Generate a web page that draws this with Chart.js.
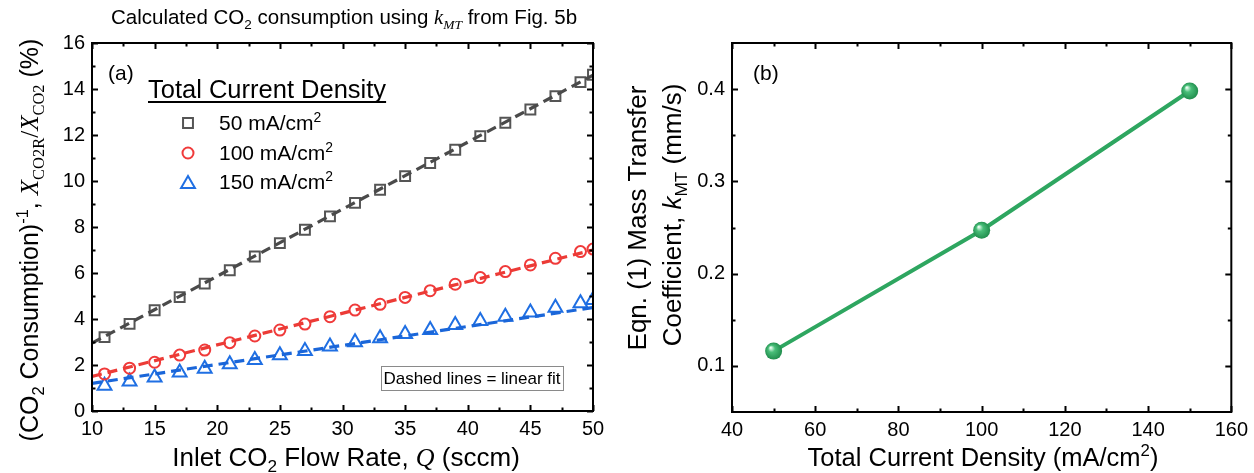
<!DOCTYPE html>
<html>
<head>
<meta charset="utf-8">
<script src="https://cdn.jsdelivr.net/npm/chart.js@4.4.1/dist/chart.umd.min.js"></script>
<style>
  html, body { margin: 0; padding: 0; background: #fff; }
  #wrap { position: relative; width: 1254px; height: 473px; overflow: hidden; background: #fff; }
  #wrap canvas { position: absolute; left: 0; top: 0; }
</style>
</head>
<body>
<div id="wrap">
  <canvas id="panelA" width="1254" height="473"></canvas>
  <canvas id="panelB" width="1254" height="473"></canvas>
</div>
<script>
// ---------- Panel (a): inverse CO2 consumption vs inlet flow rate ----------
const flowRate = [11, 13, 15, 17, 19, 21, 23, 25, 27, 29, 31, 33, 35, 37, 39, 41, 43, 45, 47, 49, 50];
const ratio50  = [3.21, 3.79, 4.38, 4.95, 5.54, 6.12, 6.72, 7.30, 7.88, 8.46, 9.05, 9.62, 10.21, 10.78, 11.36, 11.95, 12.53, 13.11, 13.69, 14.30, 14.62];
const ratio100 = [1.61, 1.86, 2.12, 2.43, 2.65, 2.97, 3.26, 3.52, 3.78, 4.10, 4.39, 4.64, 4.94, 5.23, 5.51, 5.80, 6.06, 6.35, 6.64, 6.93, 7.04];
const ratio150 = [1.10, 1.28, 1.46, 1.67, 1.84, 2.03, 2.22, 2.42, 2.61, 2.80, 2.99, 3.16, 3.35, 3.52, 3.74, 3.91, 4.10, 4.28, 4.49, 4.68, 4.83];
// linear-fit end points at 10 and 50 sccm
const fitFlow = [10, 50];
const fit50  = [2.95, 14.60];
const fit100 = [1.50, 7.00];
const fit150 = [1.20, 4.50];
const seriesNames = ['50', '100', '150'];
const flowTicks  = [10, 15, 20, 25, 30, 35, 40, 45, 50];
const ratioTicks = [0, 2, 4, 6, 8, 10, 12, 14, 16];

// ---------- Panel (b): mass transfer coefficient vs current density ----------
const currentDensity = [50, 100, 150];
const kMT = [0.116, 0.247, 0.398];
const densityTicks = [40, 60, 80, 100, 120, 140, 160];
const kTicks = [0.1, 0.2, 0.3, 0.4];

const SANS = '"Liberation Sans", Arial, sans-serif';
const SERIF = '"Liberation Serif", "Times New Roman", serif';

const C_GRAY = '#555555', C_GRAY_LINE = '#4a4a4a';
const C_RED = '#f03a3a', C_RED_LINE = '#ec3b36';
const C_BLUE = '#1f6fe3', C_BLUE_LINE = '#1a66d9';
const C_GREEN = '#2ea660';

// ---- rich text: runs of {t, serif, italic, sub, sup}
function runFont(r, size) {
  const s = (r.sub || r.sup) ? size * 0.66 : size;
  return (r.italic ? 'italic ' : '') + s.toFixed(1) + 'px ' + (r.serif ? SERIF : SANS);
}
function richWidth(ctx, runs, size) {
  let w = 0;
  runs.forEach(r => { ctx.font = runFont(r, size); w += ctx.measureText(r.t).width; });
  return w;
}
// draws runs with the baseline through (x, y); align: 'left' | 'center'; rot in radians
function drawRich(ctx, runs, x, y, size, align, rot, color) {
  ctx.save();
  ctx.translate(x, y);
  if (rot) ctx.rotate(rot);
  ctx.fillStyle = color || '#000';
  ctx.textBaseline = 'alphabetic';
  ctx.textAlign = 'left';
  const w = richWidth(ctx, runs, size);
  let cx = align === 'center' ? -w / 2 : 0;
  runs.forEach(r => {
    ctx.font = runFont(r, size);
    const dy = r.sub ? size * 0.22 : (r.sup ? -size * 0.40 : 0);
    ctx.fillText(r.t, cx, dy);
    cx += ctx.measureText(r.t).width;
  });
  ctx.restore();
  return w;
}

// Boxed frame plus inward ticks on all four sides
function frameTicks(xMajor, yMajor) {
  return {
    id: 'frameTicks',
    afterDraw(chart) {
      const { ctx, chartArea: a, scales } = chart;
      const xs = scales.x, ys = scales.y;
      ctx.save();
      ctx.strokeStyle = '#000';
      ctx.lineWidth = 2;
      ctx.lineCap = 'butt';
      const mids = arr => arr.slice(1).map((v, i) => (v + arr[i]) / 2);
      const tickX = (vals, len) => vals.forEach(v => {
        const p = Math.round(xs.getPixelForValue(v)) + 0.5;
        ctx.beginPath();
        ctx.moveTo(p, a.bottom); ctx.lineTo(p, a.bottom - len);
        ctx.moveTo(p, a.top); ctx.lineTo(p, a.top + len);
        ctx.stroke();
      });
      const tickY = (vals, len) => vals.forEach(v => {
        const p = Math.round(ys.getPixelForValue(v)) + 0.5;
        ctx.beginPath();
        ctx.moveTo(a.left, p); ctx.lineTo(a.left + len, p);
        ctx.moveTo(a.right, p); ctx.lineTo(a.right - len, p);
        ctx.stroke();
      });
      tickX(xMajor, 6); tickX(mids(xMajor), 3.5);
      tickY(yMajor, 6); tickY(mids(yMajor), 3.5);
      ctx.strokeRect(a.left, a.top, a.right - a.left, a.bottom - a.top);
      ctx.restore();
    }
  };
}

function fixedTicks(values) {
  return scale => { scale.ticks = values.map(v => ({ value: v })); };
}

// ---------- annotation for panel (a) ----------
const panelAText = {
  id: 'panelAText',
  afterDraw(chart) {
    const ctx = chart.ctx;
    // heading
    drawRich(ctx, [
      { t: 'Calculated CO' }, { t: '2', sub: true }, { t: ' consumption using ' },
      { t: 'k', serif: true, italic: true }, { t: 'MT', serif: true, italic: true, sub: true },
      { t: ' from Fig. 5b' }
    ], 344, 24, 20.5, 'center');
    // panel tag
    drawRich(ctx, [{ t: '(a)' }], 108, 80, 21, 'left');
    // legend
    ctx.save();
    ctx.font = '25.5px ' + SANS;
    ctx.fillStyle = '#000';
    ctx.textBaseline = 'alphabetic';
    const head = 'Total Current Density';
    ctx.fillText(head, 148, 98);
    const hw = ctx.measureText(head).width;
    ctx.fillRect(148, 101, hw, 2);
    ctx.restore();
    const marks = [
      { style: 'rect', r: 7, c: C_GRAY },
      { style: 'circle', r: 5.5, c: C_RED },
      { style: 'triangle', r: 8, c: C_BLUE }
    ];
    const rowsY = [123, 153, 182];
    marks.forEach((m, i) => {
      ctx.save();
      ctx.strokeStyle = m.c; ctx.fillStyle = 'rgba(0,0,0,0)'; ctx.lineWidth = 2;
      Chart.helpers.drawPoint(ctx, { pointStyle: m.style, radius: m.r, borderWidth: 2, rotation: 0 }, 188, rowsY[i] + (m.style === 'triangle' ? 2 : 0));
      ctx.restore();
      drawRich(ctx, [{ t: seriesNames[i] + ' mA/cm' }, { t: '2', sup: true }], 219, rowsY[i] + 7, 21, 'left');
    });
    // fit note box
    ctx.save();
    ctx.fillStyle = '#fff';
    ctx.fillRect(381, 366, 182, 24);
    ctx.strokeStyle = '#8a8a8a'; ctx.lineWidth = 1;
    ctx.strokeRect(381.5, 366.5, 182, 24);
    ctx.restore();
    drawRich(ctx, [{ t: 'Dashed lines = linear fit' }], 472, 384, 17, 'center');
    // axis titles
    drawRich(ctx, [
      { t: 'Inlet CO' }, { t: '2', sub: true }, { t: ' Flow Rate, ' },
      { t: 'Q', serif: true, italic: true }, { t: ' (sccm)' }
    ], 346, 466, 26, 'center');
    drawRich(ctx, [
      { t: '(CO' }, { t: '2', sub: true }, { t: ' Consumption)' }, { t: '-1', sup: true }, { t: ', ' },
      { t: 'X', serif: true, italic: true }, { t: 'CO2R', serif: true, sub: true }, { t: '/', serif: true },
      { t: 'X', serif: true, italic: true }, { t: 'CO2', serif: true, sub: true }, { t: ' (%)' }
    ], 38, 240, 25, 'center', -Math.PI / 2);
  }
};

// ---------- annotation for panel (b) ----------
const panelBText = {
  id: 'panelBText',
  afterDraw(chart) {
    const ctx = chart.ctx;
    drawRich(ctx, [{ t: '(b)' }], 753, 80, 21, 'left');
    drawRich(ctx, [{ t: 'Total Current Density (mA/cm' }, { t: '2', sup: true }, { t: ')' }], 983, 466, 25.5, 'center');
    drawRich(ctx, [{ t: 'Eqn. (1) Mass Transfer' }], 646, 218, 26, 'center', -Math.PI / 2);
    drawRich(ctx, [{ t: 'Coefficient, ' }, { t: 'k', italic: true }, { t: 'MT', sub: true }, { t: ' (mm/s)' }], 681, 215, 26, 'center', -Math.PI / 2);
  }
};

const tickFont = { family: SANS, size: 20 };

function toPoints(xs, ys) { return xs.map((x, i) => ({ x, y: ys[i] })); }

// ---------- chart (a) ----------
new Chart(document.getElementById('panelA'), {
  type: 'scatter',
  data: {
    datasets: [
      { label: 'fit 50', type: 'line', data: toPoints(fitFlow, fit50), borderColor: C_GRAY_LINE, borderWidth: 3.2, borderDash: [10, 6], pointRadius: 0, order: 0, clip: 0 },
      { label: 'fit 100', type: 'line', data: toPoints(fitFlow, fit100), borderColor: C_RED_LINE, borderWidth: 3.2, borderDash: [10, 6], pointRadius: 0, order: 0, clip: 0 },
      { label: 'fit 150', type: 'line', data: toPoints(fitFlow, fit150), borderColor: C_BLUE_LINE, borderWidth: 3.2, borderDash: [10, 6], pointRadius: 0, order: 0, clip: 0 },
      { label: '50 mA/cm²', data: toPoints(flowRate, ratio50), pointStyle: 'rect', pointRadius: 7, borderColor: C_GRAY, pointBorderWidth: 2, backgroundColor: 'rgba(0,0,0,0)', order: 1, clip: 0 },
      { label: '100 mA/cm²', data: toPoints(flowRate, ratio100), pointStyle: 'circle', pointRadius: 5.5, borderColor: C_RED, pointBorderWidth: 2, backgroundColor: 'rgba(0,0,0,0)', order: 1, clip: 0 },
      { label: '150 mA/cm²', data: toPoints(flowRate, ratio150), pointStyle: 'triangle', pointRadius: 8, borderColor: C_BLUE, pointBorderWidth: 2, backgroundColor: 'rgba(0,0,0,0)', order: 1, clip: 0 }
    ]
  },
  options: {
    responsive: false,
    animation: false,
    devicePixelRatio: 1,
    layout: { padding: { left: 0, right: 661, top: 43, bottom: 0 } },
    plugins: { legend: { display: false }, tooltip: { enabled: false }, title: { display: false } },
    scales: {
      x: {
        type: 'linear', min: 10, max: 50,
        afterBuildTicks: fixedTicks(flowTicks),
        afterFit: s => { s.height = 62; },
        grid: { display: false, drawTicks: false },
        border: { display: false },
        ticks: { font: tickFont, color: '#000', padding: 6, maxRotation: 0 }
      },
      y: {
        type: 'linear', min: 0, max: 16,
        afterBuildTicks: fixedTicks(ratioTicks),
        afterFit: s => { s.width = 92; },
        grid: { display: false, drawTicks: false },
        border: { display: false },
        ticks: { font: tickFont, color: '#000', padding: 7 }
      }
    }
  },
  plugins: [frameTicks(flowTicks, ratioTicks), panelAText]
});

// ---------- chart (b) ----------
function sphereFill(context) {
  const chart = context.chart;
  const p = context.parsed;
  if (!p || !chart.scales || !chart.scales.x || !chart.scales.y) return C_GREEN;
  const px = chart.scales.x.getPixelForValue(p.x);
  const py = chart.scales.y.getPixelForValue(p.y);
  if (!Number.isFinite(px) || !Number.isFinite(py)) return C_GREEN;
  const g = chart.ctx.createRadialGradient(px - 3, py - 3.5, 0.5, px, py, 9);
  g.addColorStop(0, '#eafff2');
  g.addColorStop(0.35, '#49be79');
  g.addColorStop(1, '#1e8a4a');
  return g;
}

new Chart(document.getElementById('panelB'), {
  type: 'line',
  data: {
    datasets: [{
      label: 'kMT',
      data: toPoints(currentDensity, kMT),
      borderColor: C_GREEN,
      borderWidth: 4,
      pointRadius: 8.5,
      pointBorderWidth: 0,
      pointBackgroundColor: sphereFill,
      pointBorderColor: C_GREEN,
      tension: 0
    }]
  },
  options: {
    responsive: false,
    animation: false,
    devicePixelRatio: 1,
    layout: { padding: { left: 627, right: 21, top: 43, bottom: 0 } },
    plugins: { legend: { display: false }, tooltip: { enabled: false } },
    scales: {
      x: {
        type: 'linear', min: 40, max: 160,
        afterBuildTicks: fixedTicks(densityTicks),
        afterFit: s => { s.height = 61; },
        grid: { display: false, drawTicks: false },
        border: { display: false },
        ticks: { font: tickFont, color: '#000', padding: 6, maxRotation: 0 }
      },
      y: {
        type: 'linear', min: 0.05, max: 0.45,
        afterBuildTicks: fixedTicks(kTicks),
        afterFit: s => { s.width = 105; },
        grid: { display: false, drawTicks: false },
        border: { display: false },
        ticks: { font: tickFont, color: '#000', padding: 7, callback: v => v.toFixed(1) }
      }
    }
  },
  plugins: [frameTicks(densityTicks, [0.05, 0.1, 0.15, 0.2, 0.25, 0.3, 0.35, 0.4, 0.45].filter((v, i) => i % 2 === 1)), panelBText]
});
</script>
</body>
</html>
